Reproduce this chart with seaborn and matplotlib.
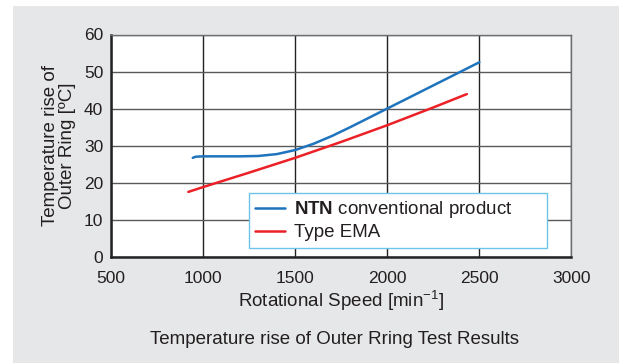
import numpy as np
import pandas as pd
import matplotlib
matplotlib.use("Agg")
import matplotlib.pyplot as plt
import seaborn as sns
from matplotlib.patches import Rectangle

# values
ntn_speed = [944, 960, 1000, 1100, 1200, 1300, 1400, 1500, 1600, 1700, 1800, 1900, 2000, 2100, 2200, 2300, 2400, 2500]
ntn_temp = [26.7, 27.0, 27.1, 27.1, 27.1, 27.2, 27.7, 28.8, 30.5, 32.6, 35.0, 37.5, 40.0, 42.5, 45.0, 47.5, 50.0, 52.5]
ema_speed = [920, 1000, 1250, 1500, 1750, 2000, 2250, 2432]
ema_temp = [17.5, 18.8, 22.7, 26.7, 31.0, 35.5, 40.3, 43.9]
x_ticks = [500, 1000, 1500, 2000, 2500, 3000]
y_ticks = [0, 10, 20, 30, 40, 50, 60]

df = pd.concat([
    pd.DataFrame({"speed": ntn_speed, "temp": ntn_temp, "series": "NTN"}),
    pd.DataFrame({"speed": ema_speed, "temp": ema_temp, "series": "EMA"}),
])

sns.set_style("white")
plt.rcParams['font.family'] = ['Liberation Sans', 'DejaVu Sans']
plt.rcParams['mathtext.fontset'] = 'custom'
plt.rcParams['mathtext.rm'] = 'Liberation Sans'
plt.rcParams['mathtext.bf'] = 'Liberation Sans:bold'

txt = "#231f20"
fig = plt.figure(figsize=(6.19, 3.63), dpi=100)
fig.patches.append(Rectangle((13 / 619, 0), 1, 1 - 6 / 363, transform=fig.transFigure,
                             facecolor="#e6e7e8", edgecolor="none", zorder=-10))
ax = fig.add_axes([111 / 619, 1 - 256.7 / 363, (571.4 - 111) / 619, (256.7 - 34.5) / 363])
ax.set_facecolor("white")

sns.lineplot(data=df, x="speed", y="temp", hue="series", sort=False, ax=ax,
             palette={"NTN": "#1f74bd", "EMA": "#ec2027"}, linewidth=1.8, legend=False)

ax.set_xlim(500, 3000)
ax.set_ylim(0, 60)
ax.set_xticks(x_ticks)
ax.set_yticks(y_ticks)
ax.yaxis.grid(True, color="#5a5a5a", linewidth=1.0)
ax.xaxis.grid(True, color="#222222", linewidth=1.0)
ax.set_axisbelow(True)
ax.tick_params(axis="both", direction="inout", length=8, width=1.6, color="#222222",
               labelsize=12.5, labelcolor=txt)
ax.tick_params(axis="y", pad=1.5)
ax.tick_params(axis="x", pad=6)
for s in ["left", "bottom"]:
    ax.spines[s].set_color("#222222")
    ax.spines[s].set_linewidth(1.8)
for s in ["top", "right"]:
    ax.spines[s].set_color("#6d6e70")
    ax.spines[s].set_linewidth(1.0)

ax.set_xlabel("Rotational Speed [min$^{-1}$]", fontsize=13.5, color=txt, labelpad=2)
ax.set_ylabel("Temperature rise of\nOuter Ring [ºC]", fontsize=13.5, color=txt,
              labelpad=6, linespacing=0.95)

ax.plot([], [], color="#1f74bd", linewidth=1.8, label=r"$\bf{NTN}$ conventional product")
ax.plot([], [], color="#ec2027", linewidth=1.8, label="Type EMA")
leg = ax.legend(loc="upper left", bbox_to_anchor=(0.299, 0.288, 0.947 - 0.299, 0.0),
                mode="expand", fontsize=13.5, frameon=True, fancybox=False, borderpad=0.35,
                handlelength=1.6, handletextpad=0.45, labelspacing=0.2, borderaxespad=0)
leg.get_frame().set_edgecolor("#6cc5e8")
leg.get_frame().set_linewidth(1.0)
leg.get_frame().set_alpha(1)
for t in leg.get_texts():
    t.set_color(txt)

fig.text(335 / 619, 1 - 340 / 363, "Temperature rise of Outer Rring Test Results",
         ha="center", va="center", fontsize=13.5, color=txt)

fig.savefig("out.png", dpi=100)
